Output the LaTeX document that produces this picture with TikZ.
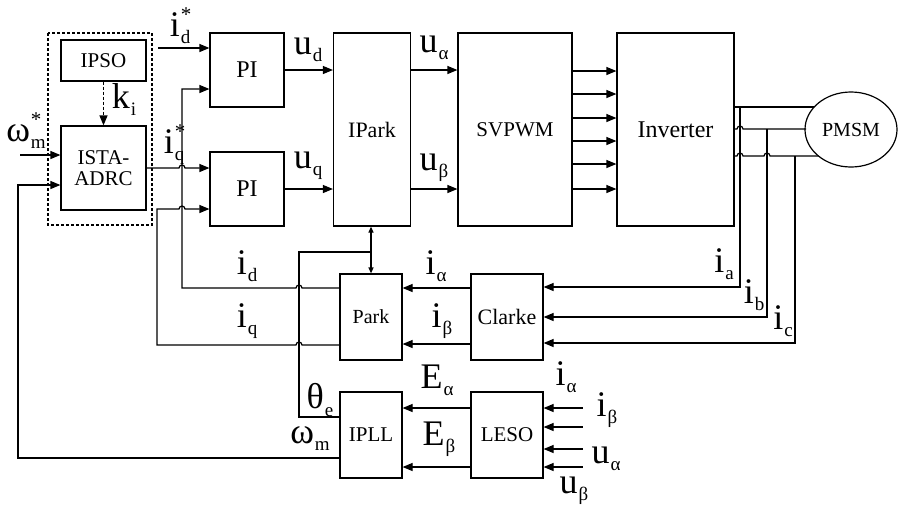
\documentclass[tikz,border=0pt]{standalone}
\usepackage{fontspec}
\setmainfont{Liberation Serif}
\usetikzlibrary{arrows.meta,shapes.geometric}

\newcommand{\fsz}[1]{\fontsize{#1}{#1}\selectfont}
% symbol with subscript and optional star
\newcommand{\lb}[3]{#1\kern1pt\rlap{\raisebox{15pt}{\fsz{21}#3}}\raisebox{-7pt}{\fsz{19}#2}}

\begin{document}
\begin{tikzpicture}[x=1pt,y=1pt,yscale=-1,xscale=1,
  blk/.style={draw,line width=1.2pt,inner sep=0pt},
  arr/.style={line width=1.2pt,-{Triangle[length=10pt,width=8pt]}},
  ln/.style={line width=1.2pt},
  sym/.style={inner sep=0pt,font=\fsz{36}}]
\useasboundingbox (0,0) rectangle (900,512);

% Blocks
\draw[line width=1.2pt,dash pattern=on 3pt off 2pt] (48,33) rectangle (152,225);
\node[blk,minimum width=85pt,minimum height=41pt,font=\fsz{21}] (ipso) at (103.5,60.5) {IPSO};
\node[blk,minimum width=85pt,minimum height=84pt,font=\fsz{21},align=center] (adrc) at (103.5,168) {ISTA-\\ADRC};
\node[blk,minimum width=74pt,minimum height=74pt,font=\fsz{24}] (pi1) at (247,70) {PI};
\node[blk,minimum width=74pt,minimum height=74pt,font=\fsz{24}] (pi2) at (247,189) {PI};
\node[blk,minimum width=77pt,minimum height=193pt,font=\fsz{22}] (ipark) at (372,129.5) {IPark};
\node[blk,minimum width=114pt,minimum height=193pt,font=\fsz{21}] (svpwm) at (515,129.5) {SVPWM};
\node[blk,minimum width=117pt,minimum height=193pt,font=\fsz{24}] (inv) at (675.5,129.5) {Inverter};
\node[blk,ellipse,minimum width=92pt,minimum height=75pt,inner sep=0pt,font=\fsz{20}] (pmsm) at (851,129.5) {PMSM};
\node[blk,minimum width=62pt,minimum height=86pt,font=\fsz{20}] (park) at (371,317) {Park};
\node[blk,minimum width=72pt,minimum height=86pt,font=\fsz{22}] (clarke) at (507,317) {Clarke};
\node[blk,minimum width=62pt,minimum height=86pt,font=\fsz{21}] (ipll) at (371,435) {IPLL};
\node[blk,minimum width=72pt,minimum height=86pt,font=\fsz{21}] (leso) at (507,435) {LESO};

% Free ends
\coordinate (idref) at (158,48);
\coordinate (wref) at (20,155);

% Controller side
\draw[arr,dash pattern=on 3pt off 2pt] (ipso.south) -- (adrc.north);
\draw[arr] (wref) -- ([yshift=-13pt]adrc.west);
\draw[arr] (idref) -- ([yshift=-22pt]pi1.west);
\draw[arr] (adrc.east) -- (179,168) arc[start angle=180,end angle=360,radius=3] -- ([yshift=-21pt]pi2.west);
\draw[arr] ([yshift=-29pt]park.west) -- (302,288) arc[start angle=0,end angle=-180,radius=3]
  -- (182,288) -- (182,89) -- ([yshift=19pt]pi1.west);
\draw[arr] ([yshift=28pt]park.west) -- (302,345) arc[start angle=0,end angle=-180,radius=3]
  -- (157,345) -- (157,209) -- (179,209) arc[start angle=180,end angle=360,radius=3] -- ([yshift=20pt]pi2.west);
\draw[arr] (pi1.east) -- (pi1.east -| ipark.west);
\draw[arr] (pi2.east) -- (pi2.east -| ipark.west);
\draw[arr] (ipark.east |- pi1) -- (svpwm.west |- pi1);
\draw[arr] (ipark.east |- pi2) -- (svpwm.west |- pi2);
\foreach \y in {71,94,118,141,164,189}
  \draw[arr] (svpwm.east |- 0,\y) -- (inv.west |- 0,\y);

% Motor side
\draw[ln] (inv.east |- 0,107) -- (814,107);
\draw[ln] (inv.east |- 0,129) -- (737,129) arc[start angle=180,end angle=360,radius=3] -- (806,129);
\draw[ln] (inv.east |- 0,156) -- (737,156) arc[start angle=180,end angle=360,radius=3]
  -- (764,156) arc[start angle=180,end angle=360,radius=3] -- (818,156);
\draw[arr] (740,107) -- (740,287) -- ([yshift=-30pt]clarke.east);
\draw[arr] (767,129) -- (767,317) -- (clarke.east);
\draw[arr] (795,156) -- (795,343) -- ([yshift=26pt]clarke.east);
\draw[arr] ([yshift=-29pt]clarke.west) -- ([yshift=-29pt]park.east);
\draw[arr] ([yshift=27pt]clarke.west) -- ([yshift=27pt]park.east);
\draw[arr] ([yshift=-27pt]leso.west) -- ([yshift=-27pt]ipll.east);
\draw[arr] ([yshift=32pt]leso.west) -- ([yshift=32pt]ipll.east);
\foreach \s in {-27,-8,14,32}
  \draw[arr] ([yshift=\s pt]leso.east) ++(39,0) -- ([yshift=\s pt]leso.east);

% Angle and speed
\draw[ln] ([yshift=-18pt]ipll.west) -- (299,417) -- (299,252) -- (371,252);
\draw[line width=1.2pt,{Triangle[length=6pt,width=5pt]}-{Triangle[length=6pt,width=5pt]}] (ipark.south -| park.north) -- (park.north);
\draw[arr] ([yshift=23pt]ipll.west) -- (18,458) -- (18,185) -- ([yshift=17pt]adrc.west);

% Labels
\node[sym] at (26,131) {\lb{ω}{m}{*}};
\node[sym] at (124,100) {\lb{k}{i}{}};
\node[sym] at (180,26) {\lb{i}{d}{*}};
\node[sym] at (174,145) {\lb{i}{q}{*}};
\node[sym] at (308,50) {\lb{u}{d}{}};
\node[sym] at (308,166) {\lb{u}{q}{}};
\node[sym] at (434,48) {\lb{u}{α}{}};
\node[sym] at (434,168) {\lb{u}{β}{}};
\node[sym] at (247,266) {\lb{i}{d}{}};
\node[sym] at (247,321) {\lb{i}{q}{}};
\node[sym] at (436,266) {\lb{i}{α}{}};
\node[sym] at (442,321) {\lb{i}{β}{}};
\node[sym] at (320,400) {\lb{θ}{e}{}};
\node[sym] at (310,439) {\lb{ω}{m}{}};
\node[sym] at (437,380) {\lb{E}{α}{}};
\node[sym] at (439,439) {\lb{E}{β}{}};
\node[sym] at (724,264) {\lb{i}{a}{}};
\node[sym] at (754,295) {\lb{i}{b}{}};
\node[sym] at (783,321) {\lb{i}{c}{}};
\node[sym] at (566,377) {\lb{i}{α}{}};
\node[sym] at (607,410) {\lb{i}{β}{}};
\node[sym] at (606,459) {\lb{u}{α}{}};
\node[sym] at (574,491) {\lb{u}{β}{}};
\end{tikzpicture}
\end{document}
